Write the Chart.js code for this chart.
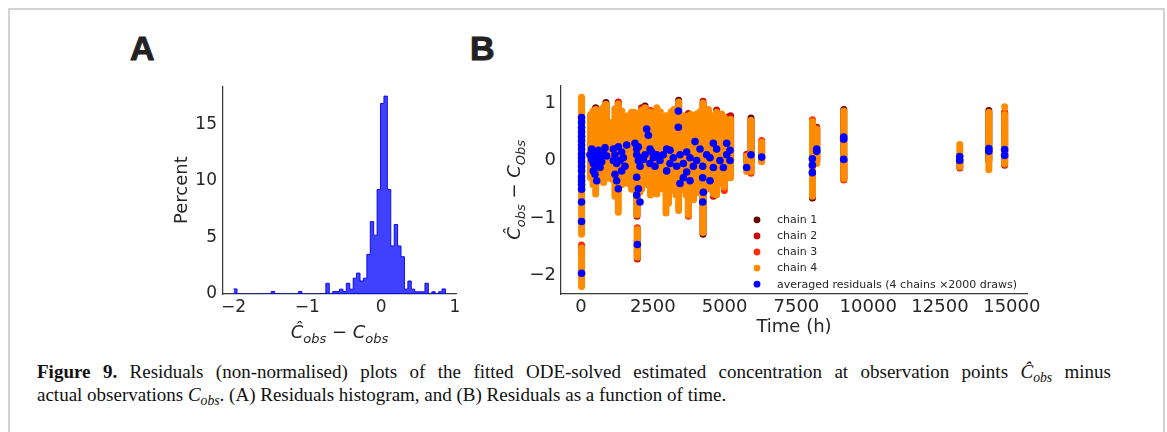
<!DOCTYPE html>
<html>
<head>
<meta charset="utf-8">
<script src="https://cdn.jsdelivr.net/npm/chart.js@4.4.1/dist/chart.umd.min.js"></script>
<style>
  body { margin: 0; background: #fff; width: 1167px; height: 432px; overflow: hidden; position: relative; }
  .frame { position: absolute; left: 8px; top: 8px; width: 1153px; height: 440px; border: 2px solid #d2d2d2; border-bottom: none; }
  .letter { position: absolute; top: 31px; font: bold 34px "Liberation Sans", Arial, sans-serif; line-height: 34px; color: #222; -webkit-text-stroke: 1px #222; }
  canvas { position: absolute; }
  .caption { position: absolute; left: 37px; font: 19px "Liberation Serif", "Times New Roman", serif; line-height: 23px; color: #111; white-space: nowrap; }
  .caption.first { top: 360px; width: 1074px; text-align: justify; text-align-last: justify; white-space: normal; }
  .caption.second { top: 383px; }
  .caption sub { font-size: 0.72em; vertical-align: -0.28em; line-height: 0; }
</style>
</head>
<body>
<div class="frame"></div>
<div class="letter" style="left:130px">A</div>
<div class="letter" style="left:470px">B</div>
<canvas id="histChart" width="340" height="280" style="left:130px; top:70px"></canvas>
<canvas id="residChart" width="620" height="280" style="left:470px; top:70px"></canvas>
<div class="caption first"><b>Figure 9.</b> Residuals (non-normalised) plots of the fitted ODE-solved estimated concentration at observation points <i>Ĉ<sub>obs</sub></i> minus</div>
<div class="caption second">actual observations <i>C<sub>obs</sub></i>. (A) Residuals histogram, and (B) Residuals as a function of time.</div>
<script>
// ---- panel A : histogram of residuals (percent per bin) ----
const histStart = -2.0;
const histBinWidth = 0.0463;
const histPercent = [
  0.45, 0, 0, 0, 0, 0, 0, 0, 0, 0,
  0, 0.22, 0, 0, 0, 0, 0, 0, 0, 0.22,
  0, 0, 0, 0, 0, 0, 0, 0.95, 0, 0.22,
  0.22, 0.43, 0.22, 0.95, 0.43, 1.4, 1.85, 1.15, 1.4, 3.5,
  6.4, 5.2, 9.25, 16.85, 17.5, 9.25, 4.25, 6.15, 4.25, 3.3,
  0.43, 1.15, 0.43, 0.2, 0.2, 0.2, 0.95, 0, 0.2, 0,
  0.2, 0.45
];
const histTicksX = [-2, -1, 0, 1];
const histTicksY = [0, 5, 10, 15];

// ---- panel B : residuals vs time ----
const timeTicks = [0, 2500, 5000, 7500, 10000, 12500, 15000];
const residTicks = [-2, -1, 0, 1];
// spread of posterior draws per observation column: [time, low, high]
const chain4 = [
  [20, -1.28, 1.10], [20, -2.19, -1.52],
  [330, -0.30, 0.80], [420, -0.42, 0.86], [511, -0.58, 0.89], [600, -0.36, 0.82],
  [700, -0.30, 0.89], [790, -0.38, 0.93], [870, -0.26, 0.98], [960, -0.30, 0.62],
  [1060, -0.32, 0.66], [1180, -0.62, 0.90], [1300, -0.90, 0.98], [1420, -0.42, 0.86],
  [1530, -0.38, 0.58], [1640, -0.40, 0.78], [1760, -0.50, 0.84], [1850, -0.50, 0.84],
  [1950, -0.94, 0.82], [1960, -1.68, -1.20], [2050, -0.55, 0.75], [2110, -0.50, 0.88],
  [2230, -0.32, 0.92], [2330, -0.42, 0.72], [2420, -0.60, 0.84], [2530, -0.45, 0.80],
  [2640, -0.58, 0.92], [2760, -0.40, 0.85], [2870, -0.50, 0.72], [2960, -0.91, 0.78],
  [3050, -0.74, 0.76], [3140, -0.50, 0.85], [3230, -0.52, 0.89], [3310, -0.60, 0.82],
  [3400, -0.87, 1.02], [3490, -0.50, 0.75], [3570, -0.36, 0.78], [3660, -0.60, 0.70],
  [3740, -0.94, 0.78], [3830, -0.50, 0.80], [3920, -0.68, 0.75], [4030, -0.36, 0.81],
  [4140, -0.56, 0.85], [4250, -1.25, 1.00], [4350, -0.50, 0.80], [4440, -0.36, 0.89],
  [4530, -0.50, 0.78], [4610, -0.58, 0.75], [4720, -0.60, 0.84], [4810, -0.40, 0.70],
  [4900, -0.36, 0.81], [4990, -0.46, 0.75], [5080, -0.30, 0.70], [5210, -0.30, 0.72],
  [5770, -0.19, 0.08], [5920, -0.19, 0.70], [6290, -0.02, 0.32],
  [8060, -0.62, 0.68], [8210, -0.05, 0.55], [9150, -0.31, 0.86],
  [13190, -0.11, 0.28], [14200, -0.16, 0.84], [14750, -0.06, 0.80], [14750, 0.925, 0.935]
];
const chain3 = [
  [20, -1.60, -1.47], [1300, 0.0, 1.0], [1960, -1.40, -1.17], [2420, 0.0, 0.87],
  [3740, -0.97, 0.0], [4990, -0.52, 0.0], [5920, -0.22, 0.0], [6290, 0.0, 0.35],
  [8060, 0.0, 0.71], [9150, -0.34, 0.0], [14750, 0.0, 0.84]
];
const chain2 = [
  [1300, 0.0, 1.02], [1950, -0.97, 0.0], [1960, -1.71, -1.40], [2110, 0.0, 0.92],
  [3740, 0.0, 0.82], [4250, 0.0, 1.03], [4610, -0.62, 0.0], [4720, 0.0, 0.88],
  [5080, 0.0, 0.74], [5210, 0.0, 0.78], [5770, 0.0, 0.11], [8210, 0.0, 0.58],
  [9150, -0.33, 0.0], [13190, -0.13, 0.0], [14750, -0.08, 0.83]
];
const chain1 = [
  [511, 0.0, 0.92], [870, 0.0, 1.01], [2230, 0.0, 0.95], [3400, 0.0, 1.05],
  [4250, -1.28, 0.0], [5150, 0.0, 0.76], [5920, 0.0, 0.74], [8060, -0.65, 0.0],
  [9150, 0.0, 0.89], [14200, 0.0, 0.87]
];
// averaged residual per observation: [time, residual]
const avgResiduals = [
  [20, 0.75], [20, 0.67], [20, 0.58], [20, 0.50], [20, 0.42], [20, 0.35], [20, 0.27],
  [20, 0.20], [20, 0.12], [20, 0.05], [20, -0.02], [20, -0.10], [20, -0.18], [20, -0.28],
  [20, -0.35], [20, -0.42], [20, -0.50], [20, -0.72], [20, -1.06], [20, -1.96],
  [313, 0.10], [371, 0.02], [429, -0.05], [488, 0.12], [546, 0.0], [604, -0.10], [662, 0.05],
  [720, -0.02], [778, 0.15], [836, 0.22], [894, 0.08], [429, -0.18], [488, -0.24], [546, -0.35],
  [371, 0.20], [604, 0.18], [720, 0.08], [662, -0.12],
  [1126, 0.20], [1184, 0.10], [1242, -0.05], [1300, 0.24], [1358, 0.0], [1416, 0.15],
  [1474, 0.05], [1532, -0.10], [1590, 0.27], [1184, -0.24], [1242, -0.35], [1300, -0.49],
  [1416, -0.18], [1126, 0.0],
  [1880, 0.30], [1939, 0.10], [1997, 0.0], [2055, -0.10], [1939, -0.29], [1997, -0.49],
  [1939, -0.60], [2055, -0.72], [1939, 0.20], [1997, 0.24], [2055, 0.05], [1962, -1.46],
  [2171, 0.02], [2228, 0.10], [2287, 0.55], [2345, 0.44], [2403, -0.05], [2461, 0.15],
  [2519, 0.05], [2577, -0.10], [2635, 0.10], [2403, 0.20],
  [2751, 0.0], [2867, 0.10], [2983, 0.20], [3099, -0.05], [3215, 0.05], [3331, -0.10],
  [3389, 0.86], [3389, 0.58], [2983, -0.18], [3099, 0.18],
  [3447, 0.10], [3563, -0.05], [3679, -0.20], [3796, -0.35], [3912, -0.10], [3970, 0.33],
  [4028, 0.0], [3447, -0.40], [3563, -0.30], [3679, 0.15], [3796, 0.05],
  [4144, 0.20], [4237, -0.10], [4237, -0.30], [4260, -0.55], [4237, -0.72], [4376, 0.10],
  [4492, 0.05], [4608, -0.12], [4724, 0.20], [4840, 0.0], [4956, -0.12], [5072, 0.30],
  [5072, 0.10], [5188, 0.0], [5188, 0.18], [4492, -0.35], [4608, 0.30],
  [5768, -0.12], [5919, 0.10], [6291, 0.06],
  [8055, 0.03], [8055, -0.08], [8055, -0.21], [8206, 0.20], [8206, 0.16],
  [9146, 0.41], [9146, 0.37], [9146, 0.02],
  [13185, 0.07], [13185, 0.0],
  [14200, 0.21], [14200, 0.16], [14750, 0.19], [14750, 0.09]
];

const tickFont = "DejaVu Sans";
const textColor = "#262626";
const spineColor = "#3a3a3a";

// minus sign like matplotlib
function fmtTick(v) {
  return v < 0 ? "\u2212" + Math.abs(v) : String(v);
}

// draws  Ĉ_obs − C_sub  as math text
function drawResidualLabel(ctx, cx, cy, rotate, sub) {
  const size = 18;
  const pieces = [
    { text: "Ĉ", font: `italic ${size}px "DejaVu Sans"`, dy: 0 },
    { text: "obs", font: `italic ${Math.round(size * 0.7)}px "DejaVu Sans"`, dy: size * 0.24 },
    { text: " \u2212 ", font: `${size}px "DejaVu Sans"`, dy: 0 },
    { text: "C", font: `italic ${size}px "DejaVu Sans"`, dy: 0 },
    { text: sub, font: `italic ${Math.round(size * 0.7)}px "DejaVu Sans"`, dy: size * 0.24 },
  ];
  ctx.save();
  ctx.translate(cx, cy);
  if (rotate) ctx.rotate(-Math.PI / 2);
  ctx.fillStyle = textColor;
  ctx.textBaseline = "alphabetic";
  let total = 0;
  pieces.forEach((p) => {
    ctx.font = p.font;
    p.w = ctx.measureText(p.text).width;
    total += p.w;
  });
  let x = -total / 2;
  pieces.forEach((p) => {
    ctx.font = p.font;
    ctx.fillText(p.text, x, size * 0.36 + p.dy);
    x += p.w;
  });
  ctx.restore();
}

// ---------- chart A ----------
const histPoints = histPercent.map((v, i) => ({ x: histStart + i * histBinWidth, y: v }));
histPoints.push({ x: histStart + histPercent.length * histBinWidth, y: 0 });

const histLabelPlugin = {
  id: "histLabel",
  afterDraw(chart) {
    const a = chart.chartArea;
    drawResidualLabel(chart.ctx, (a.left + a.right) / 2, a.bottom + 38, false, "obs");
  },
};

new Chart(document.getElementById("histChart"), {
  type: "line",
  data: {
    datasets: [
      {
        data: histPoints,
        stepped: true,
        fill: "origin",
        backgroundColor: "rgba(0, 0, 255, 0.75)",
        borderColor: "rgba(0, 0, 235, 0.9)",
        borderWidth: 1,
        pointRadius: 0,
      },
    ],
  },
  options: {
    responsive: false,
    animation: false,
    layout: { padding: { top: 10, right: 14, left: 0, bottom: 0 } },
    plugins: { legend: { display: false }, tooltip: { enabled: false } },
    scales: {
      x: {
        type: "linear",
        min: -2.1435,
        max: 1.0135,
        afterBuildTicks: (s) => { s.ticks = histTicksX.map((v) => ({ value: v })); },
        afterFit: (s) => { s.height = 56; },
        grid: { display: false, drawTicks: false },
        border: { display: true, color: spineColor, width: 1.25 },
        ticks: { padding: 3, autoSkip: false, maxRotation: 0, color: textColor, font: { family: tickFont, size: 17 }, callback: fmtTick },
      },
      y: {
        min: 0,
        max: 18.375,
        afterBuildTicks: (s) => { s.ticks = histTicksY.map((v) => ({ value: v })); },
        afterFit: (s) => { s.width = 93; },
        grid: { display: false, drawTicks: false },
        border: { display: true, color: spineColor, width: 1.25 },
        ticks: { padding: 6, color: textColor, font: { family: tickFont, size: 17 }, callback: fmtTick },
        title: { display: true, text: "Percent", color: textColor, font: { family: tickFont, size: 18 }, padding: { top: 42, bottom: 0 } },
      },
    },
  },
  plugins: [histLabelPlugin],
});

// ---------- chart B ----------
function toSegments(rows) {
  const pts = [];
  rows.forEach(([t, lo, hi]) => {
    pts.push({ x: t, y: lo }, { x: t, y: hi }, { x: t, y: null });
  });
  return pts;
}

const chainStyle = (label, color, rows, order) => ({
  label: label,
  data: toSegments(rows),
  showLine: true,
  borderColor: color,
  backgroundColor: color,
  borderWidth: 7,
  borderCapStyle: "round",
  pointRadius: 0,
  order: order,
});

const residDatasets = [
  chainStyle("chain 1", "#640000", chain1, 5),
  chainStyle("chain 2", "#c80a0a", chain2, 4),
  chainStyle("chain 3", "#ff2d00", chain3, 3),
  chainStyle("chain 4", "#ff8c00", chain4, 2),
  {
    label: "averaged residuals (4 chains \u00d72000 draws)",
    data: avgResiduals.map(([t, v]) => ({ x: t, y: v })),
    showLine: false,
    pointRadius: 3.8,
    pointBorderWidth: 0,
    pointBackgroundColor: "#0000ff",
    backgroundColor: "#0000ff",
    borderColor: "#0000ff",
    order: 1,
  },
];

const residDecorPlugin = {
  id: "residDecor",
  afterDraw(chart) {
    const ctx = chart.ctx;
    const a = chart.chartArea;
    drawResidualLabel(ctx, 44, (a.top + a.bottom) / 2, true, "Obs");
    // legend inside the axes (lower right)
    ctx.save();
    ctx.font = `11px "DejaVu Sans"`;
    ctx.textBaseline = "middle";
    chart.data.datasets.forEach((ds, i) => {
      const y = a.top + 134 + i * 16.1;
      const x = a.left + 196;
      ctx.fillStyle = ds.backgroundColor;
      ctx.beginPath();
      ctx.arc(x, y, 3.4, 0, Math.PI * 2);
      ctx.fill();
      ctx.fillStyle = textColor;
      ctx.fillText(ds.label, x + 20, y + 0.5);
    });
    ctx.restore();
  },
};

new Chart(document.getElementById("residChart"), {
  type: "scatter",
  data: { datasets: residDatasets },
  options: {
    responsive: false,
    animation: false,
    layout: { padding: { top: 10, right: 63, left: 0, bottom: 0 } },
    plugins: { legend: { display: false }, tooltip: { enabled: false } },
    scales: {
      x: {
        type: "linear",
        min: -696,
        max: 15529,
        afterBuildTicks: (s) => { s.ticks = timeTicks.map((v) => ({ value: v })); },
        afterFit: (s) => { s.height = 56; },
        grid: { display: false, drawTicks: false },
        border: { display: true, color: spineColor, width: 1.25 },
        ticks: { padding: 3, autoSkip: false, maxRotation: 0, color: textColor, font: { family: tickFont, size: 18 }, callback: fmtTick },
        title: { display: true, text: "Time (h)", color: textColor, font: { family: tickFont, size: 18 }, padding: { top: 0, bottom: 12 } },
      },
      y: {
        min: -2.32,
        max: 1.3,
        afterBuildTicks: (s) => { s.ticks = residTicks.map((v) => ({ value: v })); },
        afterFit: (s) => { s.width = 91; },
        grid: { display: false, drawTicks: false },
        border: { display: true, color: spineColor, width: 1.25 },
        ticks: { padding: 5, color: textColor, font: { family: tickFont, size: 18 }, callback: fmtTick },
      },
    },
  },
  plugins: [residDecorPlugin],
});
</script>
</body>
</html>
